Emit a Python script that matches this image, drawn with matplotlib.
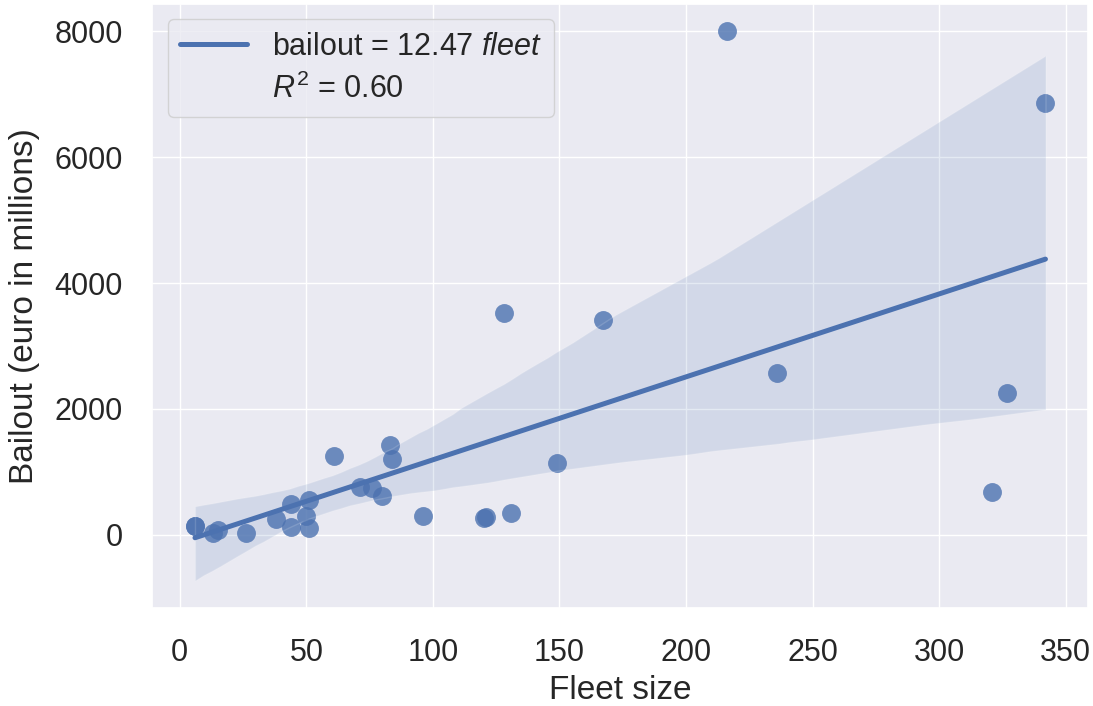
import numpy as np
import pandas as pd
import matplotlib
matplotlib.use("Agg")
import matplotlib.pyplot as plt
import seaborn as sns
from matplotlib.lines import Line2D

fleet = [6, 6, 13, 15, 26, 38, 44, 44, 51, 50, 51, 61, 71, 76, 80, 83, 84,
         96, 120, 121, 131, 128, 149, 167, 216, 236, 321, 327, 342]
bailout = [145, 135, 32, 75, 21, 244, 484, 128, 554, 299, 112, 1245, 766, 750,
           618, 1432, 1202, 303, 271, 283, 351, 3533, 1138, 3412, 8000, 2571,
           675, 2251, 6861]
slope_label = "bailout = 12.47 $fleet$"
r2_label = "$R^2$ = 0.60"

sns.set_theme(style="darkgrid", font_scale=1.5)
plt.rcParams['font.family'] = ['Liberation Sans', 'DejaVu Sans']
plt.rcParams['mathtext.fontset'] = 'custom'
plt.rcParams['mathtext.rm'] = 'Liberation Sans'
plt.rcParams['mathtext.it'] = 'Liberation Sans:italic'

df = pd.DataFrame({"fleet": fleet, "bailout": bailout})

fig, ax = plt.subplots(figsize=(10.93, 7.06), dpi=100)
fig.subplots_adjust(left=0.1395, right=0.9954, top=0.9943, bottom=0.1388)

sns.regplot(data=df, x="fleet", y="bailout", ax=ax, color="#4c72b0", seed=3,
            scatter_kws={"s": 185, "linewidths": 0},
            line_kws={"lw": 3.6, "label": slope_label})

ax.set_xlabel("Fleet size", fontsize=24, labelpad=5)
ax.set_ylabel("Bailout (euro in millions)", fontsize=24, labelpad=10)
ax.set_xticks([0, 50, 100, 150, 200, 250, 300, 350])
ax.set_yticks([0, 2000, 4000, 6000, 8000])
ax.tick_params(labelsize=22, pad=15.5)

handles = [Line2D([], [], color="#4c72b0", lw=3.6),
           Line2D([], [], color="none", lw=0)]
leg = ax.legend(handles, [slope_label, r2_label], loc="upper left",
                fontsize=22, handlelength=2.2, labelspacing=0.4,
                frameon=True)
leg.get_frame().set_edgecolor("0.8")

fig.savefig("out.png", dpi=100)
